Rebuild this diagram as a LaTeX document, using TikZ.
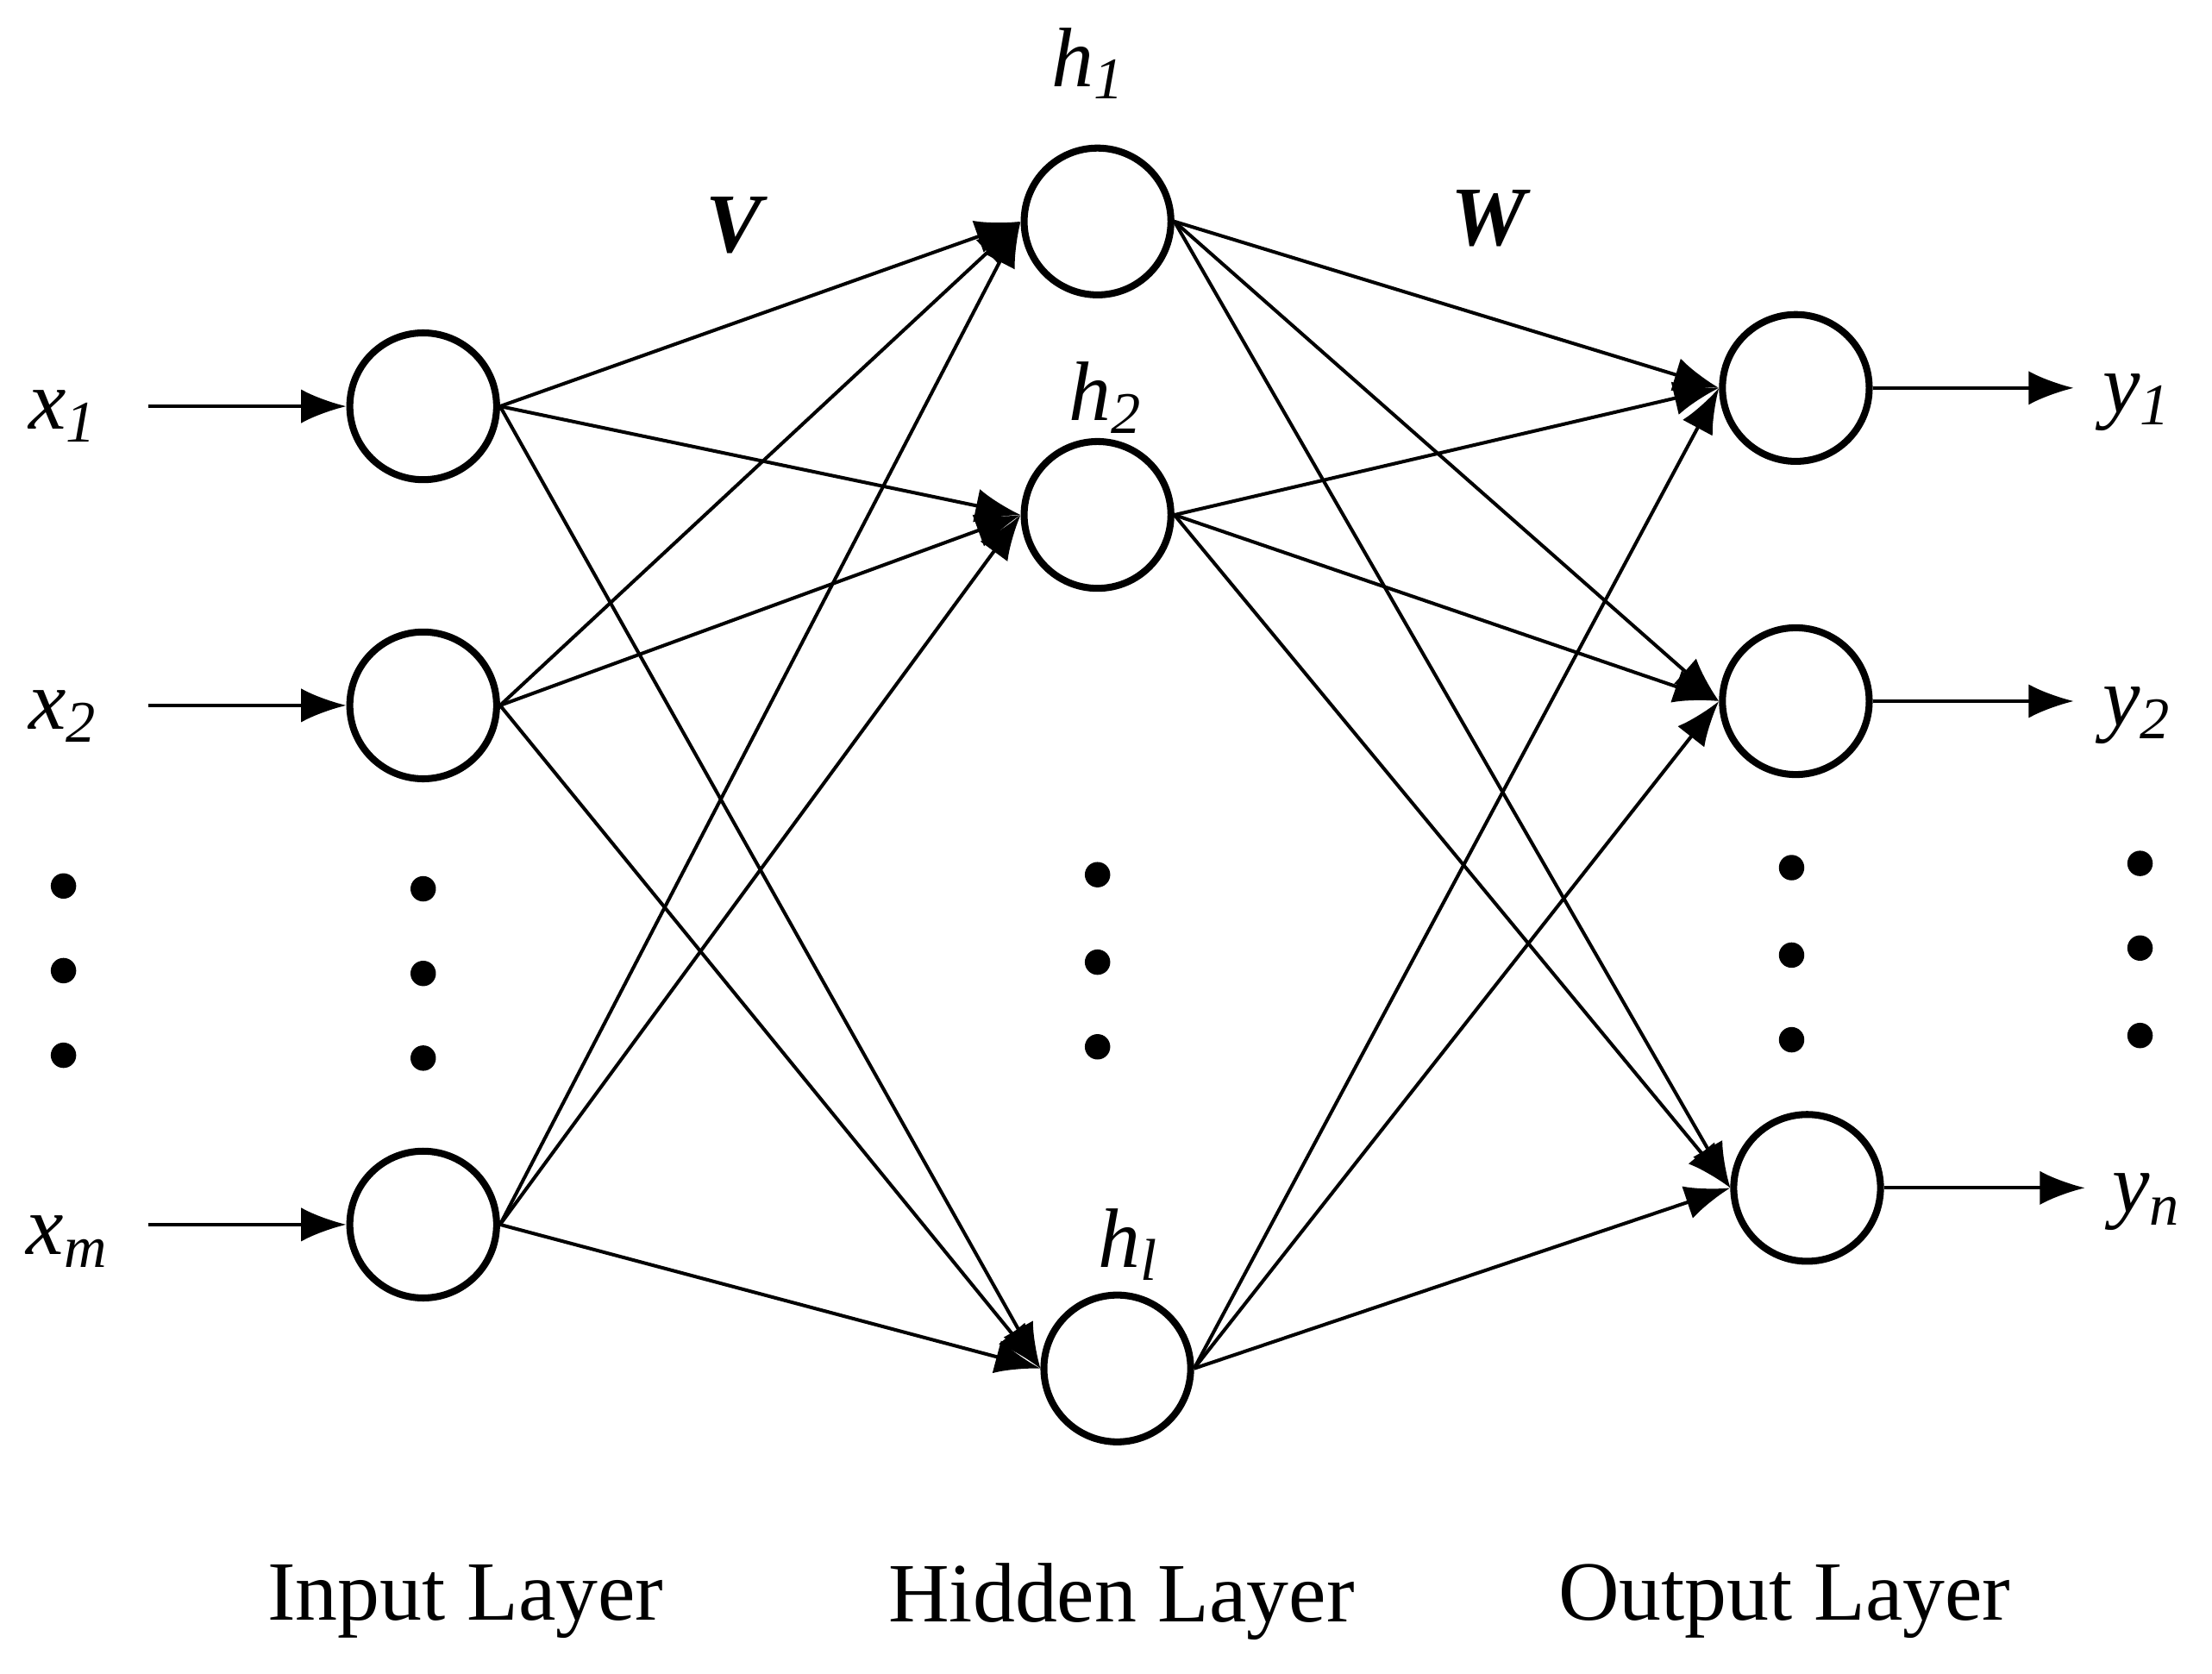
\documentclass[tikz,border=0pt]{standalone}
\usepackage{fontspec}
\setmainfont{Liberation Serif}
\usetikzlibrary{arrows.meta}
\begin{document}
\begin{tikzpicture}[x=0.01cm,y=-0.01cm,
    neuron/.style = {circle, draw, line width=1.4pt, minimum size=1.04cm, inner sep=0pt},
    conn/.style   = {line width=0.7pt, -{Latex[length=0.32cm,width=0.24cm]}},
    lbl/.style    = {font=\fontsize{17}{20}\selectfont\itshape},
    layer/.style  = {font=\fontsize{17}{20}\selectfont},
    dot/.style    = {circle, fill, inner sep=0pt, minimum size=0.18cm},
  ]
  \useasboundingbox (0,0) rectangle (1568,1186);
  % input layer
  \node[neuron] (i1) at (300,288) {};
  \node[neuron] (i2) at (300,500) {};
  \node[neuron] (im) at (300,868) {};
  % hidden layer
  \node[neuron] (h1) at (778,157) {};
  \node[neuron] (h2) at (778,365) {};
  \node[neuron] (hl) at (792,970) {};
  % output layer
  \node[neuron] (o1) at (1273,275) {};
  \node[neuron] (o2) at (1273,497) {};
  \node[neuron] (on) at (1281,842) {};
  % input labels and arrows
  \node[lbl] (x1) at (45,295) {x\textsubscript{1}};
  \node[lbl] (x2) at (45,508) {x\textsubscript{2}};
  \node[lbl] (xm) at (48,880) {x\textsubscript{m}};
  \coordinate (a1) at (105,288);
  \coordinate (a2) at (105,500);
  \coordinate (am) at (105,868);
  \draw[conn] (a1) -- (i1);
  \draw[conn] (a2) -- (i2);
  \draw[conn] (am) -- (im);
  % output labels and arrows
  \node[lbl] (y1) at (1515,285) {y\textsubscript{1}};
  \node[lbl] (y2) at (1515,507) {y\textsubscript{2}};
  \node[lbl] (yn) at (1522,852) {y\textsubscript{n}};
  \coordinate (b1) at (1470,275);
  \coordinate (b2) at (1470,497);
  \coordinate (bn) at (1478,842);
  \draw[conn] (o1) -- (b1);
  \draw[conn] (o2) -- (b2);
  \draw[conn] (on) -- (bn);
  % connections
  \foreach \i in {i1,i2,im}
    \foreach \h in {h1,h2,hl}
      \draw[conn] (\i.east) -- (\h.west);
  \foreach \h in {h1,h2,hl}
    \foreach \o in {o1,o2,on}
      \draw[conn] (\h.east) -- (\o.west);
  % hidden labels
  \node[lbl] (lh1) at (772,45) {h\textsubscript{1}};
  \node[lbl] (lh2) at (784,282) {h\textsubscript{2}};
  \node[lbl] (lhl) at (800,882) {h\textsubscript{l}};
  \node[lbl, font=\fontsize{17}{20}\selectfont\bfseries\itshape] (V) at (520,160) {V};
  \node[lbl, font=\fontsize{17}{20}\selectfont\bfseries\itshape] (W) at (1055,155) {W};
  % dots
  \foreach \x/\ya/\yb/\yc in {45/628/688/748, 300/630/690/750, 778/620/682/742, 1270/615/677/737, 1517/612/672/734} {
    \node[dot] at (\x,\ya) {};
    \node[dot] at (\x,\yb) {};
    \node[dot] at (\x,\yc) {};
  }
  % layer names
  \node[layer] (L1) at (330,1135) {Input Layer};
  \node[layer] (L2) at (795,1135) {Hidden Layer};
  \node[layer] (L3) at (1265,1135) {Output Layer};
\end{tikzpicture}
\end{document}
